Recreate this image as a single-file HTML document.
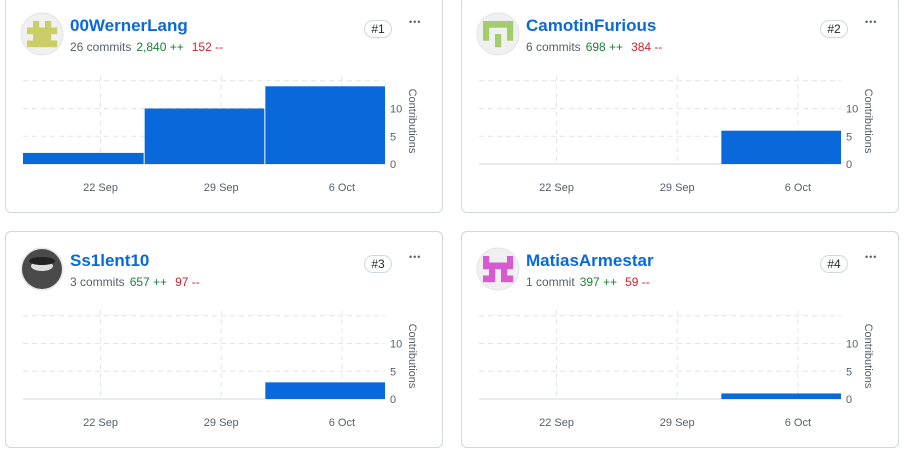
<!DOCTYPE html>
<html><head><meta charset="utf-8">
<style>
html,body{margin:0;padding:0;background:#fff;width:904px;height:464px;overflow:hidden;font-family:"Liberation Sans",sans-serif;}
.card{position:absolute;width:438px;height:217px;border:1px solid #d0d7de;border-radius:6px;box-sizing:border-box;background:#fff;}
.name{position:absolute;left:64px;font-size:17px;font-weight:bold;color:#0969da;}
.stats{position:absolute;left:64px;font-size:12px;color:#57606a;white-space:nowrap;}
.add{color:#1a7f37;margin-left:5px;}
.del{color:#cf222e;margin-left:8px;}
.badge{position:absolute;left:358px;width:28px;height:18px;border:1px solid #d0d7de;border-radius:10px;box-sizing:border-box;font-size:12px;color:#24292f;text-align:center;line-height:16px;}
.dots{position:absolute;left:403px;font-size:14px;color:#57606a;letter-spacing:1px;}
svg{position:absolute;left:0;top:0;}
</style></head><body>
<div id="root"></div>
<script>
const names=["00WernerLang","CamotinFurious","Ss1lent10","MatiasArmestar"];
const commits=["26 commits","6 commits","3 commits","1 commit"];
const adds=["2,840 ++","698 ++","657 ++","397 ++"];
const dels=["152 --","384 --","97 --","59 --"];
const ranks=["#1","#2","#3","#4"];
const weeks=[0,7,14]; // day offsets of weekly bars
const values=[[2,10,14],[0,0,6],[0,0,3],[0,0,1]];
const yTicks=[0,5,10];
const xTickDays=[4.5,11.5,18.5];
const xTickLabels=["22 Sep","29 Sep","6 Oct"];
const avatarColors=["#cbcd66","#a3cc6a","#333","#d65ad0"];

const cardPos=[[5,-4],[461,-4],[5,231],[461,231]];
const root=document.getElementById('root');
const NS="http://www.w3.org/2000/svg";
function mk(tag,attrs,parent){const e=document.createElementNS(NS,tag);for(const k in attrs)e.setAttribute(k,attrs[k]);parent.appendChild(e);return e;}

names.forEach((nm,i)=>{
  const [cx,cy]=cardPos[i];
  const c=document.createElement('div');c.className='card';
  c.style.left=cx+'px';c.style.top=cy+'px';
  
  
  root.appendChild(c);
  const hTop=31;
  const n=document.createElement('div');n.className='name';n.textContent=nm;n.style.top='19px';
  
  
  c.appendChild(n);
  const s=document.createElement('div');s.className='stats';s.style.top=(hTop+12)+'px';
  s.innerHTML=commits[i]+'<span class="add">'+adds[i]+'</span><span class="del">'+dels[i]+'</span>';
  
  
  c.appendChild(s);
  const b=document.createElement('div');b.className='badge';b.textContent=ranks[i];b.style.top=(hTop-8)+'px';
  
  
  c.appendChild(b);
  const d=document.createElement('div');d.className='dots';d.textContent='•••';d.style.top=(hTop-11)+'px';d.style.fontSize='9px';
  
  
  c.appendChild(d);

  const svg=mk('svg',{width:438,height:217},c);
  
  
  const ax=36,ay=hTop+6;
  const g=mk('g',{},svg);
  
  
  mk('circle',{cx:ax,cy:ay,r:21,fill:'#f0f0f0',stroke:'#e1e4e8'},g);
  if(i===2){mk('circle',{cx:ax,cy:ay,r:20,fill:'#4a4a4a'},g);mk('ellipse',{cx:ax,cy:ay-3,rx:11,ry:5,fill:'#ddd'},g);mk('ellipse',{cx:ax,cy:ay-8,rx:13,ry:4,fill:'#222'},g);}
  else{
    const col=avatarColors[i];
    const pats=[["01010","11111","01110","11111"],["11111","10001","10101","00100"],[],["10001","11111","01010","11011"]][i];
    pats.forEach((row,r)=>{[...row].forEach((ch,k)=>{if(ch==='1')mk('rect',{x:ax-15+k*6,y:ay-13+r*6.5,width:6.2,height:6.7,fill:col},g);});});
  }
  const x0=17,x1=379,base=167;
  const pxDay=(x1-x0)/21;
  const X=dd=>x0+dd*pxDay;
  const Y=v=>base-v*5.55;
  [5,10,15].forEach(v=>{mk('line',{x1:x0,x2:x1,y1:Y(v),y2:Y(v),stroke:'#e1e4e8','stroke-dasharray':'5,4'},svg);});
  xTickDays.forEach((dd,k)=>{
    mk('line',{x1:X(dd),x2:X(dd),y1:Y(16),y2:base,stroke:'#e1e4e8','stroke-dasharray':'5,4'},svg);
    const t=mk('text',{x:X(dd),y:base+27,'text-anchor':'middle','font-size':'11','fill':'#57606a','font-family':'Liberation Sans'},svg);
    t.textContent=xTickLabels[k];
  });
  mk('line',{x1:x0,x2:x1,y1:base,y2:base,stroke:'#d0d7de'},svg);
  weeks.forEach((w,k)=>{
    const v=values[i][k];if(!v)return;
    const r=mk('rect',{x:X(w)+(k?1:0),y:Y(v),width:7*pxDay-(k?1:0),height:base-Y(v),fill:'#0969da'},svg);
    
    
  });
  yTicks.forEach(v=>{const t=mk('text',{x:x1+5,y:Y(v)+4,'font-size':'11','fill':'#57606a','font-family':'Liberation Sans'},svg);t.textContent=v;});
  const yt=mk('text',{x:0,y:0,transform:'translate('+(x1+24)+','+(base-43)+') rotate(90)','text-anchor':'middle','font-size':'11','fill':'#57606a','font-family':'Liberation Sans'},svg);
  yt.textContent='Contributions';
  
  
});
</script>
</body></html>
